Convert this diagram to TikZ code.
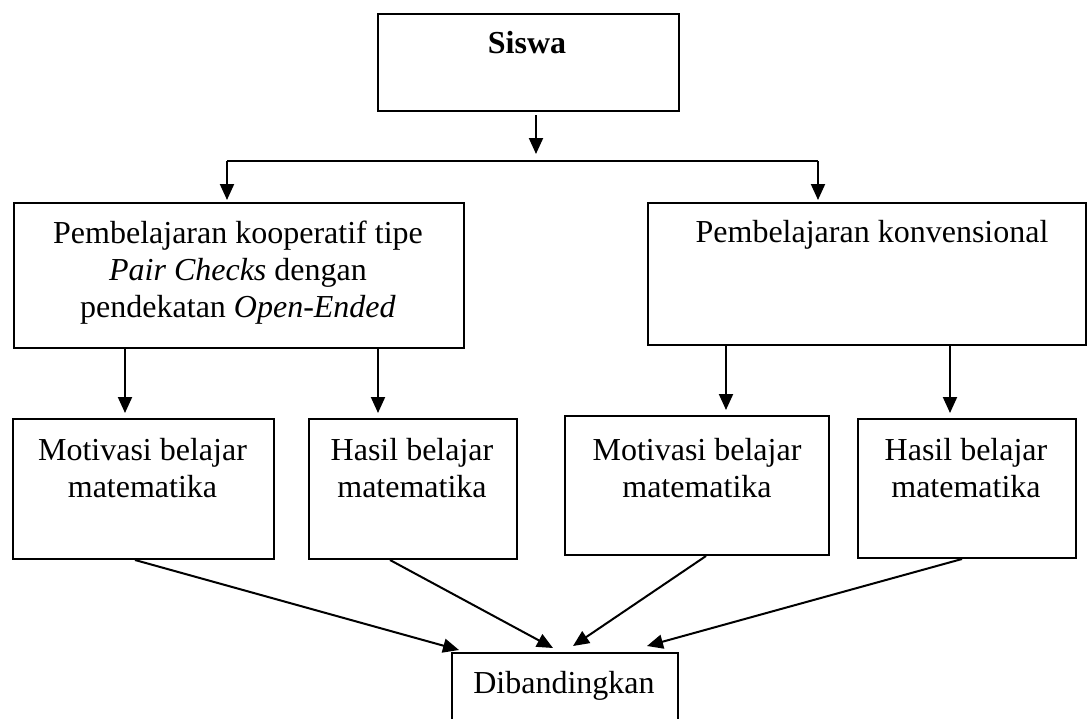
\documentclass[tikz,border=0pt]{standalone}
\usepackage{fontspec}
\setmainfont{Liberation Serif}
\usetikzlibrary{arrows.meta,calc}
\begin{document}
\begin{tikzpicture}[x=1pt,y=-1pt,
  box/.style={draw,line width=2pt,inner sep=0pt,anchor=north west},
  txt/.style={font=\fontsize{32}{37}\selectfont,align=center,inner sep=0pt,anchor=base},
  arr/.style={line width=2pt,-{Triangle[length=16pt,width=14pt]}},
  ln/.style={line width=2pt}]
\useasboundingbox (0,0) rectangle (1087,718);
% boxes
\node[box,minimum width=301pt,minimum height=97pt] (siswa) at (377,13) {};
\node[txt,font=\bfseries\fontsize{32}{37}\selectfont] (siswaT) at (527,53) {Siswa};
\node[box,minimum width=450pt,minimum height=145pt] (koop) at (13,202) {};
\node[txt] (koopT) at (238,317) {Pembelajaran kooperatif tipe\\\textit{Pair Checks} dengan\\pendekatan \textit{Open-Ended}};
\node[box,minimum width=438pt,minimum height=142pt] (konv) at (647,202) {};
\node[txt] (konvT) at (872,242) {Pembelajaran konvensional};
\node[box,minimum width=261pt,minimum height=140pt] (ml) at (12,418) {};
\node[txt] (mlT) at (142.5,497) {Motivasi belajar\\matematika};
\node[box,minimum width=208pt,minimum height=140pt] (hl) at (308,418) {};
\node[txt] (hlT) at (412,497) {Hasil belajar\\matematika};
\node[box,minimum width=264pt,minimum height=139pt] (mr) at (564,415) {};
\node[txt] (mrT) at (697,497) {Motivasi belajar\\matematika};
\node[box,minimum width=218pt,minimum height=139pt] (hr) at (857,418) {};
\node[txt] (hrT) at (966,497) {Hasil belajar\\matematika};
\node[box,minimum width=226pt,minimum height=80pt] (dib) at (451,652) {};
\node[txt] (dibT) at (564,693) {Dibandingkan};
% connectors
\coordinate (s1) at (536,161);
\coordinate (bl) at (227,161);
\coordinate (br) at (818,161);
\draw[arr,shorten <=3pt,shorten >=7pt] (siswa.south -| s1) -- (s1);
\draw[ln] (bl) -- (br);
\draw[arr,shorten >=2pt] (bl) -- (koop.north -| bl);
\draw[arr,shorten >=2pt] (br) -- (konv.north -| br);
\coordinate (a1) at (125,0);
\coordinate (a2) at (378,0);
\coordinate (a3) at (726,0);
\coordinate (a4) at (950,0);
\draw[arr,shorten >=5pt] (koop.south -| a1) -- (ml.north -| a1);
\draw[arr,shorten >=5pt] (koop.south -| a2) -- (hl.north -| a2);
\draw[arr,shorten >=5pt] (konv.south -| a3) -- (mr.north -| a3);
\draw[arr,shorten >=5pt] (konv.south -| a4) -- (hr.north -| a4);
\draw[arr] ($(ml.south west)+(123,0)$) -- ($(dib.north west)+(8,-2)$);
\draw[arr] ($(hl.south west)+(82,0)$) -- ($(dib.north west)+(102,-4)$);
\draw[arr] ($(mr.south west)+(142,0)$) -- ($(dib.north west)+(122,-6)$);
\draw[arr] ($(hr.south west)+(105,0)$) -- ($(dib.north west)+(196,-6)$);
\end{tikzpicture}
\end{document}
